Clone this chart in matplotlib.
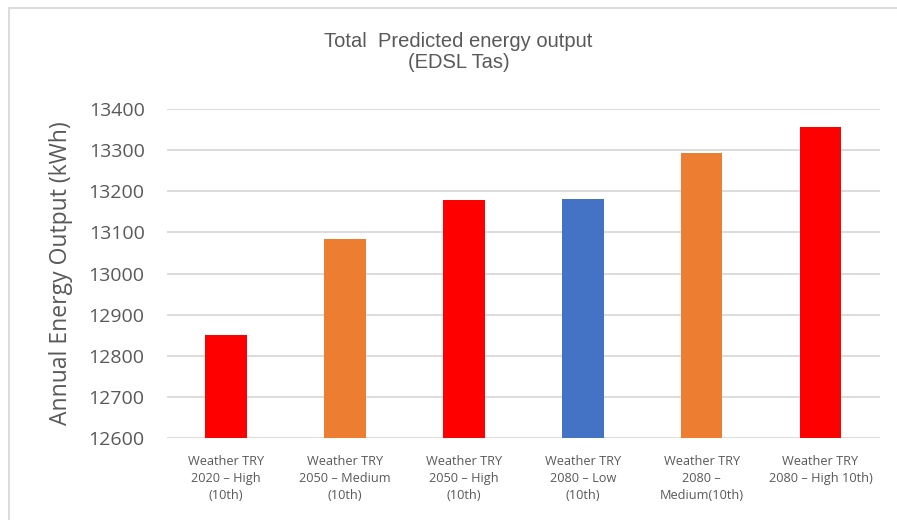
#Bar chart of total predicted energy output for each weather file.
import matplotlib
matplotlib.use("Agg")
import matplotlib.pyplot as plt

categories = [
    "Weather TRY\n2020 \u2013 High\n(10th)",
    "Weather TRY\n2050 \u2013 Medium\n(10th)",
    "Weather TRY\n2050 \u2013 High\n(10th)",
    "Weather TRY\n2080 \u2013 Low\n(10th)",
    "Weather TRY\n2080 \u2013\nMedium(10th)",
    "Weather TRY\n2080 \u2013 High 10th)",
]
energy_kwh = [12851, 13085, 13178, 13182, 13294, 13356]
bar_colors = ["#FF0000", "#ED7D31", "#FF0000", "#4472C4", "#ED7D31", "#FF0000"]
y_ticks = [12600, 12700, 12800, 12900, 13000, 13100, 13200, 13300, 13400]


def main():
    """Draw the chart and save it."""
    plt.rcParams["font.family"] = ["Open Sans", "DejaVu Sans"]
    fig = plt.figure(figsize=(8.97, 5.2), dpi=100)
    ax = fig.add_axes([0.186, 0.158, 0.795, 0.632])

    positions = list(range(len(categories)))
    ax.bar(positions, [v - y_ticks[0] for v in energy_kwh], bottom=y_ticks[0],
           width=0.35, color=bar_colors, zorder=3)

    #Axis ranges and ticks.
    ax.set_ylim(y_ticks[0], y_ticks[-1])
    ax.set_xlim(-0.5, len(categories) - 0.5)
    ax.set_yticks(y_ticks)
    ax.set_yticklabels([str(t) for t in y_ticks], fontsize=14, color="#595959")
    ax.set_xticks(positions)
    ax.set_xticklabels(categories, fontsize=9.2, color="#595959",
                       linespacing=1.4)
    ax.tick_params(axis="both", length=0)
    ax.tick_params(axis="y", pad=16)
    ax.tick_params(axis="x", pad=12)

    #Grid lines, no frame.
    ax.grid(axis="y", color="#D9D9D9", linewidth=1.3, zorder=0)
    for side in ax.spines.values():
        side.set_visible(False)

    ax.set_ylabel("Annual Energy Output (kWh)", fontsize=16.5, color="#595959")
    ax.yaxis.set_label_coords(-0.132, 0.5)
    fig.text(0.511, 0.900, "Total  Predicted energy output\n(EDSL Tas)",
             ha="center", va="center", fontsize=14.5, color="#595959",
             family=["Liberation Sans", "DejaVu Sans"], linespacing=1.15)

    #Light chart border on the top and left edges.
    fig.add_artist(plt.Line2D([0.010, 0.010], [0.0, 0.985], color="#D9D9D9",
                              linewidth=1.3, transform=fig.transFigure))
    fig.add_artist(plt.Line2D([0.010, 1.0], [0.985, 0.985], color="#D9D9D9",
                              linewidth=1.3, transform=fig.transFigure))

    fig.savefig("out.png", dpi=100, facecolor="white")


if __name__ == '__main__':
    main()
